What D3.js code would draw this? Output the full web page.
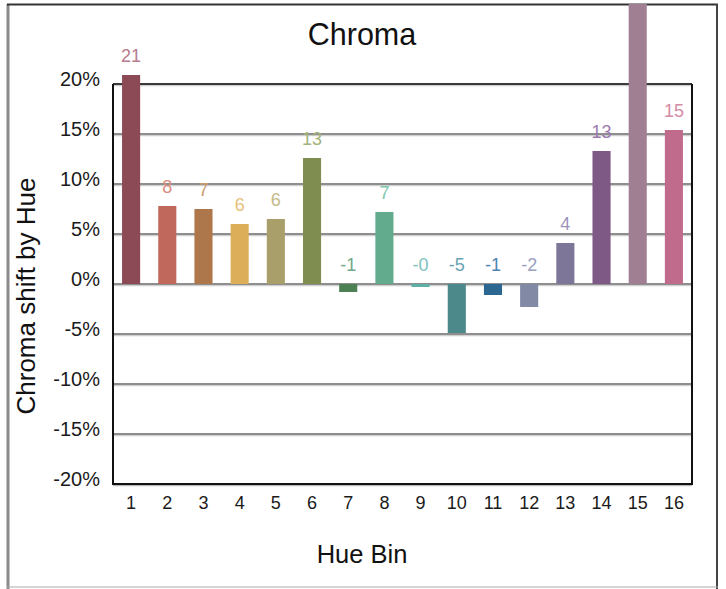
<!DOCTYPE html>
<html><head><meta charset="utf-8">
<script src="https://cdn.jsdelivr.net/npm/d3@7"></script>
<style>body{margin:0;background:#fff}svg{display:block}text{font-family:"Liberation Sans",Arial,Helvetica,sans-serif}</style>
</head><body>
<script>
const categories = ["1","2","3","4","5","6","7","8","9","10","11","12","13","14","15","16"];
const values = [20.9, 7.8, 7.5, 6.0, 6.5, 12.6, -0.8, 7.2, -0.3, -4.9, -1.1, -2.3, 4.1, 13.3, 28.0, 15.4];
const labels = ["21","8","7","6","6","13","-1","7","-0","-5","-1","-2","4","13","28","15"];
const colors = ["#8c4a57","#c0685b","#ae774b","#ddae5a","#a99f6a","#7f8d50","#4e8056","#62ab8c","#5cb0a6","#4b898b","#2b6791","#8289a4","#7e7699","#7e5986","#a17f93","#c06b8b"];
const labelColors = ["#b77c8d","#d98f7f","#c99a6e","#e6c07a","#c4b98a","#a3b47a","#6fa98a","#7ec8b0","#7ec2c0","#6aa3b3","#4c84b0","#9aa0c0","#9d93bb","#9b7ab0","#b79ab0","#d78aa6"];
const yTicks = [-20,-15,-10,-5,0,5,10,15,20];
const title = "Chroma", xTitle = "Hue Bin", yTitle = "Chroma shift by Hue";

const W = 726, H = 589;
const svg = d3.select("body").append("svg").attr("width", W).attr("height", H);

const m = {left:113, right:692, top:84, bottom:484};
const x = d3.scaleBand().domain(categories).range([m.left, m.right]).paddingInner(0.5).paddingOuter(0.25);
const y = d3.scaleLinear().domain([-20,20]).range([m.bottom, m.top]);

// outer frame
svg.append("line").attr("x1",8).attr("x2",8).attr("y1",4).attr("y2",589).attr("stroke","#8a8a8a").attr("stroke-width",3);
svg.append("line").attr("x1",7).attr("x2",718).attr("y1",4.5).attr("y2",4.5).attr("stroke","#333").attr("stroke-width",2);
svg.append("line").attr("x1",717).attr("x2",717).attr("y1",4).attr("y2",589).attr("stroke","#444").attr("stroke-width",2);
svg.append("line").attr("x1",7).attr("x2",718).attr("y1",587).attr("y2",587).attr("stroke","#aaa").attr("stroke-width",1);

// gridlines
const grid = svg.append("g");
grid.selectAll("line.s").data(yTicks.filter(d=>d>-20)).join("line")
  .attr("x1",m.left).attr("x2",m.right).attr("y1",d=>y(d)+1.5).attr("y2",d=>y(d)+1.5)
  .attr("stroke","#d0d0d0").attr("stroke-width",1.5);
grid.selectAll("line.g").data(yTicks.filter(d=>d>-20)).join("line")
  .attr("x1",m.left).attr("x2",m.right).attr("y1",d=>y(d)).attr("y2",d=>y(d))
  .attr("stroke",d=>d===20?"#3a3a3a":"#8e8e8e").attr("stroke-width",2);

// plot border (left, bottom, right)
svg.append("line").attr("x1",m.left).attr("x2",m.right).attr("y1",m.bottom+1.5).attr("y2",m.bottom+1.5).attr("stroke","#bbb").attr("stroke-width",1.5);
svg.append("path").attr("d",`M${m.left},${m.top}V${m.bottom}H${m.right}V${m.top}`).attr("fill","none").attr("stroke","#111").attr("stroke-width",2);

// bars
svg.append("g").selectAll("rect").data(values).join("rect")
  .attr("x",(d,i)=>x(categories[i]))
  .attr("width",x.bandwidth())
  .attr("y",d=>y(Math.max(0,d)))
  .attr("height",d=>Math.abs(y(d)-y(0)))
  .attr("fill",(d,i)=>colors[i]);

// value labels (ones that would fall above the page are not drawn, as in the reference)
const lab = values.map((v,i)=>({v,i,ly:y(Math.max(0,v))-13})).filter(d=>d.ly>20);
svg.append("g").selectAll("text").data(lab).join("text")
  .attr("x",d=>x(categories[d.i])+x.bandwidth()/2)
  .attr("y",d=>d.ly)
  .attr("text-anchor","middle").attr("font-size",18)
  .attr("fill",d=>labelColors[d.i])
  .text(d=>labels[d.i]);

// y axis labels
const yAxis = d3.axisLeft(y).tickValues(yTicks).tickFormat(d=>d+"%").tickSize(0).tickPadding(13);
const ya = svg.append("g").attr("transform",`translate(${m.left},-5)`).call(yAxis);
ya.select(".domain").remove();
ya.selectAll("text").attr("font-size",20).attr("fill","#1a1a1a").attr("font-family",'"Liberation Sans",Arial,sans-serif');

// x axis labels
const xAxis = d3.axisBottom(x).tickSize(0).tickPadding(12);
const xa = svg.append("g").attr("transform",`translate(0,${m.bottom})`).call(xAxis);
xa.select(".domain").remove();
xa.selectAll("text").attr("font-size",18).attr("fill","#1a1a1a").attr("font-family",'"Liberation Sans",Arial,sans-serif');

// titles
svg.append("text").attr("x",362).attr("y",45).attr("text-anchor","middle").attr("font-size",30.5).attr("fill","#111").text(title);
svg.append("text").attr("x",362).attr("y",563).attr("text-anchor","middle").attr("font-size",25.5).attr("fill","#111").text(xTitle);
svg.append("text").attr("transform","translate(35,296) rotate(-90)").attr("text-anchor","middle").attr("font-size",26).attr("fill","#111").text(yTitle);
</script>
</body></html>
